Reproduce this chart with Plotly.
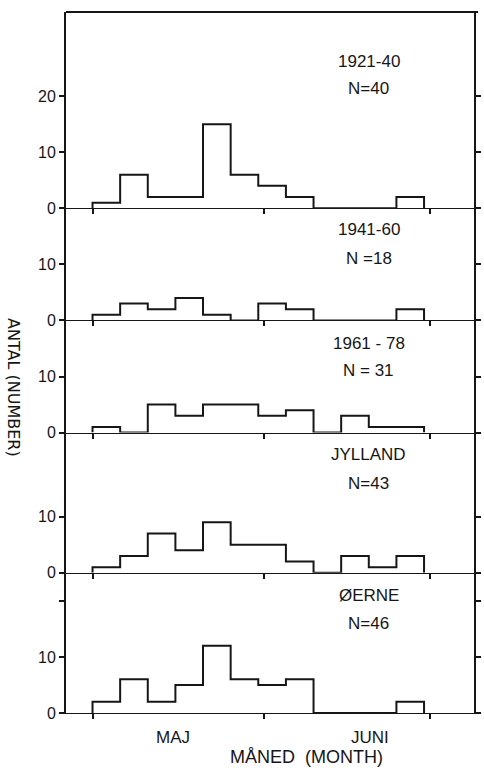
import pandas as pd
import numpy as np
import plotly.graph_objects as go

# ---- data (counts per 5-day period, 1 May - 30 June) ----
period_start = "2001-05-01"
period_days = 5
panel_titles = ["1921-40", "1941-60", "1961 - 78", "JYLLAND", "ØERNE"]
panel_n = ["N=40", "N =18", "N = 31", "N=43", "N=46"]
counts_1921_40 = [1, 6, 2, 2, 15, 6, 4, 2, 0, 0, 0, 2]
counts_1941_60 = [1, 3, 2, 4, 1, 0, 3, 2, 0, 0, 0, 2]
counts_1961_78 = [1, 0, 5, 3, 5, 5, 3, 4, 0, 3, 1, 1]
counts_jylland = [1, 3, 7, 4, 9, 5, 5, 2, 0, 3, 1, 3]
counts_oerne = [2, 6, 2, 5, 12, 6, 5, 6, 0, 0, 0, 2]
panel_ymax = [35, 20, 20, 25, 25]
panel_ticks = [[0, 10, 20], [0, 10], [0, 10], [0, 10], [0, 10, 20]]
panel_ticktext = [["0", "10", "20"], ["0", "10"], ["0", "10"], ["0", "10"], ["0", "10", ""]]
month_ticks = ["2001-05-01", "2001-06-01", "2001-07-01"]
month_labels = ["MAJ", "JUNI"]
y_title = "ANTAL (NUMBER)"
x_title = "MÅNED  (MONTH)"

series = [counts_1921_40, counts_1941_60, counts_1961_78, counts_jylland, counts_oerne]

W, H = 484, 771
L, R, T, B = 66, 3, 12, 58
plot_h = H - T - B

FONT = "Liberation Sans, Arial, sans-serif"
INK = "#161616"
fig = go.Figure()

total = sum(panel_ymax)
top = 1.0
domains = []
for ym in panel_ymax:
    h = ym / total
    domains.append([top - h, top])
    top -= h
domains[-1][0] = 0.0

start = pd.Timestamp(period_start)
for i, vals in enumerate(series):
    n = len(vals)
    edges = [start + pd.Timedelta(days=period_days * k) for k in range(n + 1)]
    xs = [edges[0]] + edges[:n] + [edges[n]]
    ys = [0] + list(vals) + [0]
    xa = "x" if i == 0 else f"x{i+1}"
    ya = "y" if i == 0 else f"y{i+1}"
    fig.add_trace(go.Scatter(x=xs, y=ys, mode="lines", line=dict(shape="hv", color=INK, width=2),
                             xaxis=xa, yaxis=ya, showlegend=False, hoverinfo="skip", cliponaxis=False))

x_range = ["2001-04-26 04:48", "2001-07-09 01:00"]
for i in range(len(series)):
    xk = "xaxis" if i == 0 else f"xaxis{i+1}"
    yk = "yaxis" if i == 0 else f"yaxis{i+1}"
    yref = "y" if i == 0 else f"y{i+1}"
    xref = "x" if i == 0 else f"x{i+1}"
    fig.layout[xk] = dict(domain=[0, 1], anchor=yref, type="date", range=x_range,
                          tickvals=month_ticks, showticklabels=False, ticks="outside", ticklen=5,
                          tickwidth=2, tickcolor=INK, showline=True, linecolor=INK, linewidth=1,
                          mirror=False, showgrid=False, zeroline=False,
                          matches=None if i == 0 else "x")
    fig.layout[yk] = dict(domain=domains[i], anchor=xref, range=[0, panel_ymax[i]],
                          tickvals=panel_ticks[i], ticktext=panel_ticktext[i], ticks="outside",
                          ticklen=5, tickwidth=2, tickcolor=INK, showline=True, linecolor=INK,
                          linewidth=2, mirror="ticks", showgrid=False, zeroline=False,
                          tickfont=dict(family=FONT, size=16, color=INK))

def py_to_paper(py):
    return (H - B - py) / plot_h

def px_to_paper(px):
    return (px - L) / (W - L - R)

annotations = []
title_py = [62, 229, 343, 454, 595]
n_py = [89, 258, 370, 483, 623]
for i in range(len(series)):
    annotations.append(dict(text=panel_titles[i], x=px_to_paper(374), y=py_to_paper(title_py[i]),
                            xref="paper", yref="paper", showarrow=False, xanchor="center", yanchor="middle",
                            font=dict(family=FONT, size=17, color=INK)))
    annotations.append(dict(text=panel_n[i], x=px_to_paper(374), y=py_to_paper(n_py[i]),
                            xref="paper", yref="paper", showarrow=False, xanchor="center", yanchor="middle",
                            font=dict(family=FONT, size=17, color=INK)))
for lab, px in zip(month_labels, [175, 375]):
    annotations.append(dict(text=lab, x=px_to_paper(px), y=py_to_paper(737), xref="paper", yref="paper",
                            showarrow=False, xanchor="center", yanchor="middle",
                            font=dict(family=FONT, size=17, color=INK)))
annotations.append(dict(text=x_title, x=px_to_paper(311), y=py_to_paper(757), xref="paper", yref="paper",
                        showarrow=False, xanchor="center", yanchor="middle",
                        font=dict(family=FONT, size=18, color=INK)))
annotations.append(dict(text=y_title, x=px_to_paper(13), y=py_to_paper(388), xref="paper", yref="paper",
                        showarrow=False, xanchor="center", yanchor="middle", textangle=90,
                        font=dict(family="DejaVu Sans, sans-serif", size=16, color=INK)))

# top frame line of the first panel
shapes = [dict(type="line", xref="paper", yref="paper", x0=0, x1=1.01, y0=1, y1=1,
               line=dict(color=INK, width=2))]

fig.update_layout(width=W, height=H, margin=dict(l=L, r=R, t=T, b=B, pad=0),
                  paper_bgcolor="white", plot_bgcolor="white", annotations=annotations,
                  shapes=shapes, showlegend=False)

fig.write_html("out.html", config={"displayModeBar": False},
               post_script="document.body.style.margin='0';document.body.style.overflow='hidden';")
